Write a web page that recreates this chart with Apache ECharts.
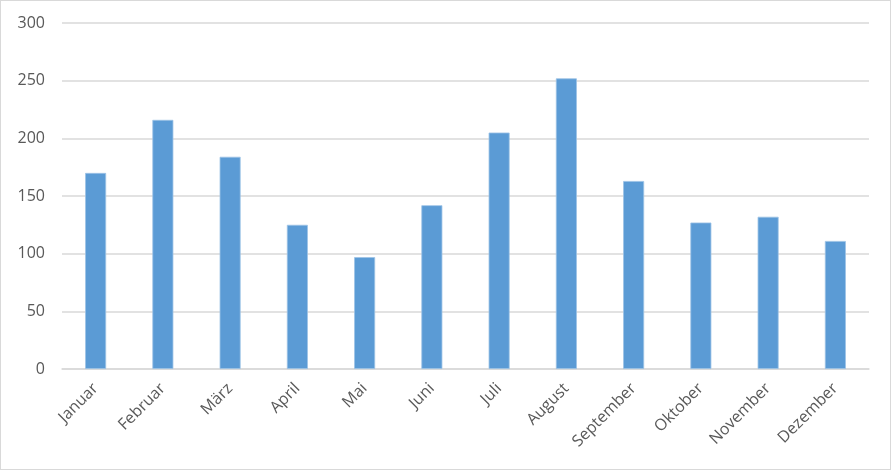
<!DOCTYPE html>
<html>
<head>
<meta charset="utf-8">
<script src="https://cdn.jsdelivr.net/npm/echarts@6/dist/echarts.min.js"></script>
<style>
  html, body { margin: 0; padding: 0; background: #fff; }
  #chart { width: 889px; height: 468px; border: 1px solid #d9d9d9; }
</style>
</head>
<body>
<div id="chart"></div>
<script>
// Monate und Werte
var months = ["Januar", "Februar", "März", "April", "Mai", "Juni", "Juli", "August", "September", "Oktober", "November", "Dezember"];
var values = [170, 216, 184, 125, 97, 142, 205, 252, 163, 127, 132, 111];
var yTicks = [0, 50, 100, 150, 200, 250, 300];

var myChart = echarts.init(document.getElementById("chart"));
myChart.setOption({
  animation: false,
  grid: {
    left: 61,
    right: 21,
    top: 22,
    bottom: 100
  },
  xAxis: {
    type: "category",
    data: months,
    axisLine: { lineStyle: { color: "#d9d9d9", width: 1.5 } },
    axisTick: { show: false },
    axisLabel: {
      rotate: 45,
      margin: 17,
      color: "#595959",
      fontFamily: "Open Sans",
      fontSize: 16,
      interval: 0
    }
  },
  yAxis: {
    type: "value",
    min: yTicks[0],
    max: yTicks[yTicks.length - 1],
    interval: 50,
    axisLine: { show: false },
    axisTick: { show: false },
    axisLabel: {
      margin: 17,
      color: "#595959",
      fontFamily: "Open Sans",
      fontSize: 16
    },
    splitLine: { lineStyle: { color: "#d9d9d9", width: 1.5 } }
  },
  series: [
    {
      type: "bar",
      data: values,
      barWidth: 21,
      itemStyle: {
        color: "#5b9bd5",
        borderColor: "#9dc3e6",
        borderWidth: 0.8
      }
    }
  ]
});
</script>
</body>
</html>
